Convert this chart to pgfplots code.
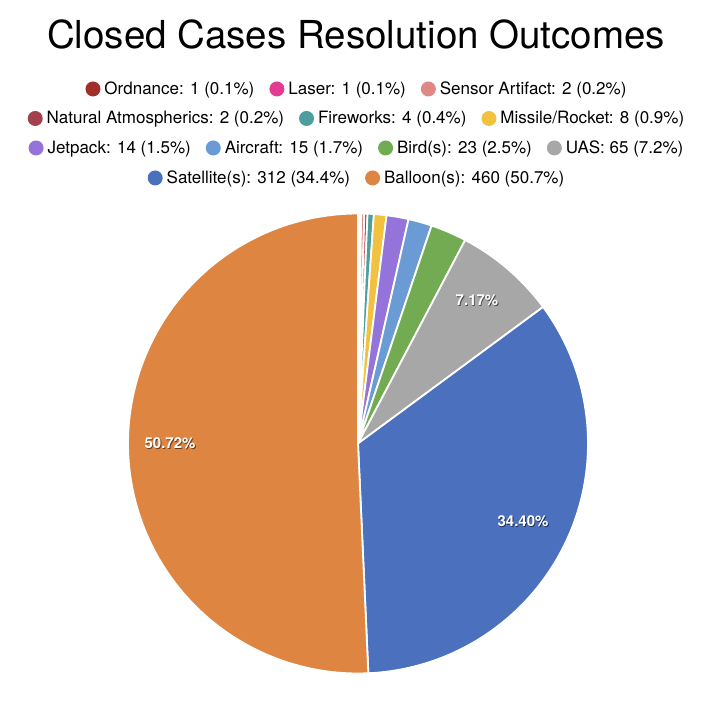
\documentclass[border=0pt]{standalone}
\usepackage{pgfplots}
\pgfplotsset{compat=1.18}
\usepackage{fontspec}
\setmainfont{TeX Gyre Heros}

\definecolor{ordn}{HTML}{A32D28}
\definecolor{laser}{HTML}{E33A93}
\definecolor{sensor}{HTML}{E08886}
\definecolor{natural}{HTML}{A2404E}
\definecolor{fireworks}{HTML}{4C9F9C}
\definecolor{missile}{HTML}{F2C13F}
\definecolor{jetpack}{HTML}{9474DB}
\definecolor{aircraft}{HTML}{6A9BD5}
\definecolor{bird}{HTML}{72AB52}
\definecolor{uas}{HTML}{A7A7A7}
\definecolor{satellite}{HTML}{4A70BE}
\definecolor{balloon}{HTML}{DE8542}

% pie geometry (1 unit = 1 px of the reference)
\def\cx{358}
\def\cy{260.5}
\def\rr{230}
\def\total{907}
\gdef\cum{0}
\newcommand{\slice}[2]{% #1 colour, #2 count
  \pgfmathsetmacro{\sa}{90-(\cum/\total)*360}%
  \pgfmathsetmacro{\cumnew}{\cum+#2}%
  \pgfmathsetmacro{\ea}{90-(\cumnew/\total)*360}%
  \xdef\cum{\cumnew}%
  \edef\doplot{\noexpand\addplot[fill=#1, draw=white, line width=1.8pt, line join=round, domain=\ea:\sa, samples=100]
    ({\cx+\rr*cos(x)},{\cy+\rr*sin(x)}) -- (\cx,\cy) -- cycle;}%
  \doplot
}
\tikzset{pct/.style={font=\bfseries\fontsize{15}{17}\selectfont, text=white},
  pctsh/.style={font=\bfseries\fontsize{15}{17}\selectfont, text=black, text opacity=0.55}}

\pgfplotsset{
  legrow/.style={at={(0,0)}, anchor=south west, width=720pt, height=704pt,
    scale only axis, hide axis, xmin=0, xmax=720, ymin=0, ymax=704,
    legend columns=-1,
    legend style={at={(0.4944,#1)}, anchor=center, draw=none, fill=none,
      font=\fontsize{17}{20}\selectfont, inner sep=0pt, outer sep=0pt,
      nodes={inner sep=0pt, outer sep=0pt},
      /tikz/every odd column/.append style={column sep=4pt},
      /tikz/every even column/.append style={column sep=15pt}},
    legend image code/.code={\path[##1, draw=none] (0pt,0pt) circle (7.5pt);},
  },
}

\begin{document}
\begin{tikzpicture}
\path[use as bounding box] (0,0) rectangle (720pt,704pt);

\begin{axis}[at={(0,0)}, anchor=south west, width=720pt, height=704pt,
  scale only axis, hide axis, clip=false,
  xmin=0, xmax=720, ymin=0, ymax=704]
  \slice{ordn}{1}
  \slice{laser}{1}
  \slice{sensor}{2}
  \slice{natural}{2}
  \slice{fireworks}{4}
  \slice{missile}{8}
  \slice{jetpack}{14}
  \slice{aircraft}{15}
  \slice{bird}{23}
  \slice{uas}{65}
  \slice{satellite}{312}
  \slice{balloon}{460}

  \node[font=\fontsize{38.5}{46}\selectfont, anchor=base] at (356,655) {Closed Cases Resolution Outcomes};

  \node[pctsh] at (477.9,402.8) {7.17\%};
  \node[pct] at (477,404) {7.17\%};
  \node[pctsh] at (523.9,181.8) {34.40\%};
  \node[pct] at (523,183) {34.40\%};
  \node[pctsh] at (170.9,259.8) {50.72\%};
  \node[pct] at (170,261) {50.72\%};
\end{axis}

\begin{axis}[legrow=0.8736]
  \addlegendimage{fill=ordn}\addlegendentry{Ordnance: 1 (0.1\%)}
  \addlegendimage{fill=laser}\addlegendentry{Laser: 1 (0.1\%)}
  \addlegendimage{fill=sensor}\addlegendentry{Sensor Artifact: 2 (0.2\%)}
\end{axis}
\begin{axis}[legrow=0.8317]
  \addlegendimage{fill=natural}\addlegendentry{Natural Atmospherics: 2 (0.2\%)}
  \addlegendimage{fill=fireworks}\addlegendentry{Fireworks: 4 (0.4\%)}
  \addlegendimage{fill=missile}\addlegendentry{Missile/Rocket: 8 (0.9\%)}
\end{axis}
\begin{axis}[legrow=0.7898]
  \addlegendimage{fill=jetpack}\addlegendentry{Jetpack: 14 (1.5\%)}
  \addlegendimage{fill=aircraft}\addlegendentry{Aircraft: 15 (1.7\%)}
  \addlegendimage{fill=bird}\addlegendentry{Bird(s): 23 (2.5\%)}
  \addlegendimage{fill=uas}\addlegendentry{UAS: 65 (7.2\%)}
\end{axis}
\begin{axis}[legrow=0.7472]
  \addlegendimage{fill=satellite}\addlegendentry{Satellite(s): 312 (34.4\%)}
  \addlegendimage{fill=balloon}\addlegendentry{Balloon(s): 460 (50.7\%)}
\end{axis}
\end{tikzpicture}
\end{document}
